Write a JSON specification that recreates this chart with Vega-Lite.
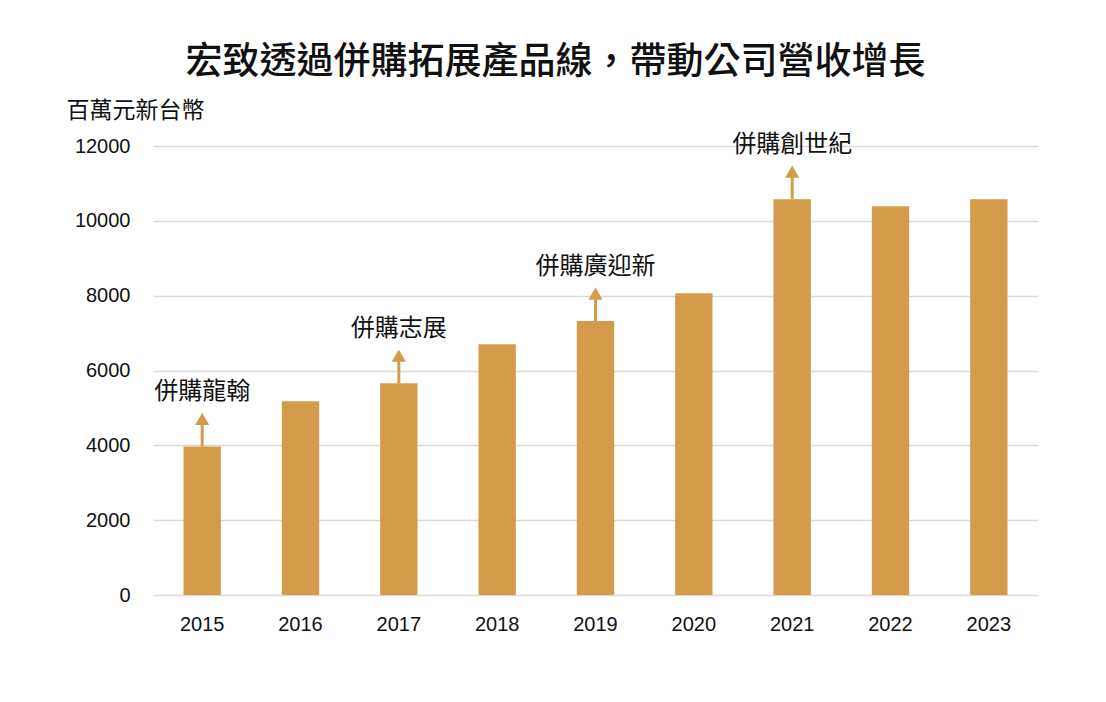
{
  "$schema": "https://vega.github.io/schema/vega-lite/v6.json",
  "width": 885,
  "height": 449,
  "autosize": "none",
  "padding": {"left": 153, "top": 146, "right": 68, "bottom": 107},
  "background": "white",
  "title": {
    "text": "宏致透過併購拓展產品線，帶動公司營收增長",
    "fontSize": 37,
    "font": "Noto Sans CJK TC",
    "fontWeight": 500,
    "color": "#111111",
    "anchor": "middle",
    "dx": -40,
    "offset": 17
  },
  "config": {"view": {"stroke": null}, "font": "Noto Sans CJK TC"},
  "data": {
    "values": [
      {"year": "2015", "revenue": 3970, "acquisition": "併購龍翰"},
      {"year": "2016", "revenue": 5180, "acquisition": null},
      {"year": "2017", "revenue": 5660, "acquisition": "併購志展"},
      {"year": "2018", "revenue": 6700, "acquisition": null},
      {"year": "2019", "revenue": 7320, "acquisition": "併購廣迎新"},
      {"year": "2020", "revenue": 8065, "acquisition": null},
      {"year": "2021", "revenue": 10580, "acquisition": "併購創世紀"},
      {"year": "2022", "revenue": 10390, "acquisition": null},
      {"year": "2023", "revenue": 10580, "acquisition": null}
    ]
  },
  "layer": [
    {
      "mark": {"type": "bar", "color": "#D49C4A"},
      "encoding": {
        "x": {
          "field": "year",
          "type": "ordinal",
          "scale": {"paddingInner": 0.62, "paddingOuter": 0.31},
          "axis": {
            "title": null,
            "labelAngle": 0,
            "labelFont": "Liberation Sans",
            "labelFontSize": 20,
            "labelColor": "#111111",
            "labelPadding": 19,
            "ticks": false,
            "domain": false
          }
        },
        "y": {
          "field": "revenue",
          "type": "quantitative",
          "scale": {"domain": [0, 12000]},
          "axis": {
            "title": "百萬元新台幣",
            "titleAngle": 0,
            "titleAlign": "left",
            "titleBaseline": "middle",
            "titleX": -87,
            "titleY": -36,
            "titleFontSize": 23,
            "titleFontWeight": "normal",
            "titleColor": "#111111",
            "values": [0, 2000, 4000, 6000, 8000, 10000, 12000],
            "format": "d",
            "labelFont": "Liberation Sans",
            "labelFontSize": 20,
            "labelColor": "#111111",
            "labelPadding": 23,
            "ticks": false,
            "domain": false,
            "gridColor": "#d9d9d9",
            "gridWidth": 1.5
          }
        }
      }
    },
    {
      "transform": [{"filter": "datum.acquisition != null"}],
      "mark": {"type": "rule", "color": "#D49C4A", "strokeWidth": 3, "y2Offset": -24},
      "encoding": {
        "x": {"field": "year", "type": "ordinal"},
        "y": {"field": "revenue", "type": "quantitative"},
        "y2": {"field": "revenue"}
      }
    },
    {
      "transform": [{"filter": "datum.acquisition != null"}],
      "mark": {"type": "point", "shape": "triangle-up", "filled": true, "opacity": 1, "color": "#D49C4A", "size": 200, "yOffset": -27.5},
      "encoding": {
        "x": {"field": "year", "type": "ordinal"},
        "y": {"field": "revenue", "type": "quantitative"}
      }
    },
    {
      "transform": [{"filter": "datum.acquisition != null"}],
      "mark": {"type": "text", "fontSize": 24, "color": "#111111", "baseline": "middle", "align": "center", "yOffset": -54},
      "encoding": {
        "x": {"field": "year", "type": "ordinal"},
        "y": {"field": "revenue", "type": "quantitative"},
        "text": {"field": "acquisition"}
      }
    }
  ]
}
